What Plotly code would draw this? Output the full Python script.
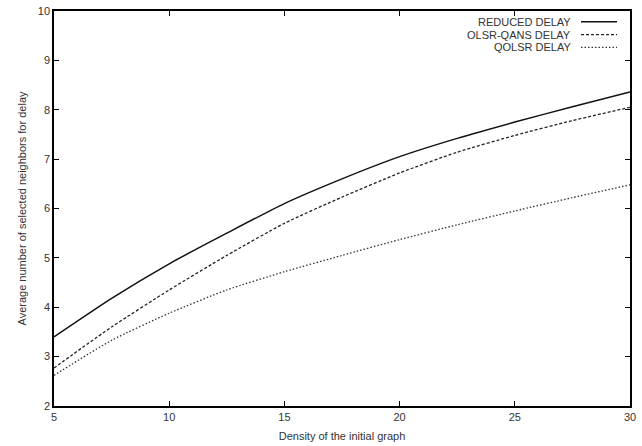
import plotly.graph_objects as go

density = [5, 7.5, 10, 12.5, 15, 17.5, 20, 22.5, 25, 27.5, 30]
reduced_delay = [3.40, 4.18, 4.88, 5.50, 6.10, 6.60, 7.05, 7.42, 7.75, 8.06, 8.36]
olsr_qans_delay = [2.77, 3.60, 4.35, 5.05, 5.70, 6.23, 6.72, 7.14, 7.48, 7.78, 8.05]
qolsr_delay = [2.62, 3.33, 3.88, 4.35, 4.72, 5.05, 5.37, 5.67, 5.95, 6.22, 6.48]

series_names = ["REDUCED DELAY", "OLSR-QANS DELAY", "QOLSR DELAY"]
x_ticks = [5, 10, 15, 20, 25, 30]
y_ticks = [2, 3, 4, 5, 6, 7, 8, 9, 10]

FONT = "Liberation Sans, Arial, sans-serif"
styles = [
    dict(color="#111111", width=1.5, dash="solid"),
    dict(color="#222222", width=1.3, dash="3px,2px"),
    dict(color="#333333", width=1.3, dash="1.5px,2px"),
]

fig = go.Figure()
for name, ys, st in zip(series_names, [reduced_delay, olsr_qans_delay, qolsr_delay], styles):
    fig.add_trace(go.Scatter(x=density, y=ys, mode="lines", name=name,
                             line=dict(shape="spline", smoothing=0.6, **st),
                             showlegend=False))

# legend drawn manually (text left of sample line, gnuplot style)
leg_y = [16, 29, 42]
for name, st, py in zip(series_names, styles, leg_y):
    yp = 1 - (py - 5) / (406 - 5)
    fig.add_annotation(xref="paper", yref="paper", x=(573 - 54) / (630 - 54), y=yp,
                       text=name, showarrow=False, xanchor="right", yanchor="middle",
                       font=dict(family=FONT, size=11, color="#333333"))
    fig.add_shape(type="line", xref="paper", yref="paper",
                  x0=(581 - 54) / 576, x1=(617 - 54) / 576, y0=yp, y1=yp,
                  line=dict(color=st["color"], width=st["width"], dash=st["dash"]))

axis_common = dict(showline=True, linecolor="black", linewidth=1.5, mirror="ticks",
                   ticks="inside", ticklen=5, tickcolor="black", tickwidth=1,
                   showgrid=False, zeroline=False,
                   tickfont=dict(family=FONT, size=11, color="#333333"))

fig.update_layout(
    width=642, height=446,
    margin=dict(l=54, r=12, t=5, b=40),
    paper_bgcolor="white", plot_bgcolor="white",
    xaxis=dict(range=[5, 30], tickvals=x_ticks,
               title=dict(text="Density of the initial graph", standoff=10,
                          font=dict(family=FONT, size=11, color="#333333")),
               **axis_common),
    yaxis=dict(range=[2, 10], tickvals=y_ticks,
               title=dict(text="Average number of selected neighbors for delay", standoff=9,
                          font=dict(family=FONT, size=11, color="#333333")),
               **axis_common),
)

fig.write_html("out.html")
